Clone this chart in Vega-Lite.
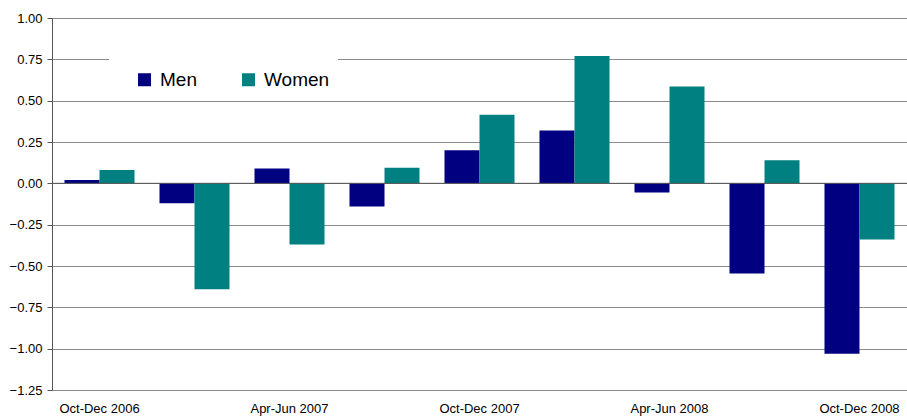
{
  "$schema": "https://vega.github.io/schema/vega-lite/v6.json",
  "width": 855,
  "height": 372,
  "autosize": {"type": "none"},
  "padding": {"left": 52, "top": 18, "right": 0, "bottom": 26},
  "background": "white",
  "config": {
    "view": {"stroke": null},
    "font": "Liberation Sans"
  },
  "data": {
    "values": [
      {"quarter": "Oct-Dec 2006", "sex": "Men", "value": 0.02},
      {"quarter": "Oct-Dec 2006", "sex": "Women", "value": 0.08},
      {"quarter": "Jan-Mar 2007", "sex": "Men", "value": -0.12},
      {"quarter": "Jan-Mar 2007", "sex": "Women", "value": -0.64},
      {"quarter": "Apr-Jun 2007", "sex": "Men", "value": 0.09},
      {"quarter": "Apr-Jun 2007", "sex": "Women", "value": -0.37},
      {"quarter": "Jul-Sep 2007", "sex": "Men", "value": -0.14},
      {"quarter": "Jul-Sep 2007", "sex": "Women", "value": 0.095},
      {"quarter": "Oct-Dec 2007", "sex": "Men", "value": 0.2},
      {"quarter": "Oct-Dec 2007", "sex": "Women", "value": 0.415},
      {"quarter": "Jan-Mar 2008", "sex": "Men", "value": 0.32},
      {"quarter": "Jan-Mar 2008", "sex": "Women", "value": 0.77},
      {"quarter": "Apr-Jun 2008", "sex": "Men", "value": -0.055},
      {"quarter": "Apr-Jun 2008", "sex": "Women", "value": 0.585},
      {"quarter": "Jul-Sep 2008", "sex": "Men", "value": -0.545},
      {"quarter": "Jul-Sep 2008", "sex": "Women", "value": 0.14},
      {"quarter": "Oct-Dec 2008", "sex": "Men", "value": -1.03},
      {"quarter": "Oct-Dec 2008", "sex": "Women", "value": -0.34}
    ]
  },
  "layer": [
    {
      "mark": {"type": "bar"},
      "encoding": {
        "x": {
          "field": "quarter",
          "type": "nominal",
          "sort": null,
          "scale": {"paddingInner": 0.263, "paddingOuter": 0.1316},
          "axis": {
            "title": null,
            "values": ["Oct-Dec 2006", "Apr-Jun 2007", "Oct-Dec 2007", "Apr-Jun 2008", "Oct-Dec 2008"],
            "labelAngle": 0,
            "ticks": false,
            "domain": false,
            "labelPadding": 12,
            "labelFontSize": 13,
            "labelColor": "#000000",
            "labelFont": "Liberation Sans"
          }
        },
        "xOffset": {"field": "sex", "type": "nominal", "scale": {"paddingInner": 0, "paddingOuter": 0}},
        "y": {
          "field": "value",
          "type": "quantitative",
          "scale": {"domain": [-1.25, 1.0], "nice": false, "zero": false},
          "axis": {
            "title": null,
            "values": [-1.25, -1.0, -0.75, -0.5, -0.25, 0, 0.25, 0.5, 0.75, 1.0],
            "format": ".2f",
            "grid": true,
            "gridColor": "#8c8c8c",
            "gridWidth": 1,
            "gridOpacity": 1,
            "domainColor": "#555555",
            "domainWidth": 1,
            "tickColor": "#555555",
            "tickSize": 5,
            "labelPadding": 5,
            "labelFontSize": 13,
            "labelColor": "#000000",
            "labelFont": "Liberation Sans"
          }
        },
        "color": {
          "field": "sex",
          "type": "nominal",
          "scale": {"domain": ["Men", "Women"], "range": ["#000080", "#008080"]},
          "legend": {
            "orient": "none",
            "legendX": 57,
            "legendY": 38,
            "direction": "horizontal",
            "title": " ",
            "titleFontSize": 6,
            "titlePadding": 0,
            "fillColor": "white",
            "padding": 8,
            "symbolType": "square",
            "symbolSize": 169,
            "symbolStrokeWidth": 0,
            "symbolOpacity": 1,
            "labelFontSize": 19,
            "labelFont": "Liberation Sans",
            "labelColor": "#000000",
            "labelOffset": 6,
            "columnPadding": 24,
            "symbolOffset": 18
          }
        }
      }
    },
    {
      "data": {"values": [{"z": 0}]},
      "mark": {"type": "rule", "color": "#555555", "strokeWidth": 1},
      "encoding": {"y": {"field": "z", "type": "quantitative"}}
    }
  ]
}
